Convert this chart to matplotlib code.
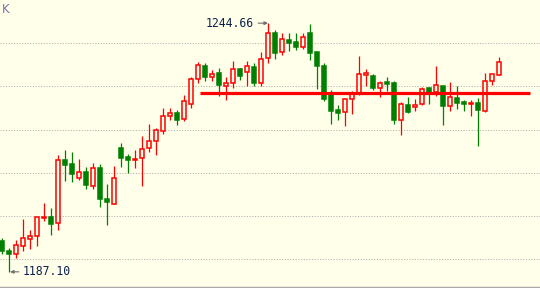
import matplotlib
matplotlib.use("Agg")
import matplotlib.pyplot as plt
import numpy as np

opens = [1194.17, 1191.92, 1191.30, 1193.15, 1194.77, 1195.51, 1199.49, 1199.72, 1198.29, 1212.99,
         1212.01, 1208.87, 1210.16, 1207.04, 1211.09, 1203.96, 1202.87, 1215.72, 1213.68, 1213.06,
         1213.38, 1215.69, 1217.31, 1219.77, 1223.10, 1223.80, 1222.41, 1225.88, 1231.67, 1234.68,
         1232.27, 1233.13, 1230.19, 1230.74, 1234.05, 1233.29, 1234.44, 1230.74, 1236.55, 1242.38,
         1237.92, 1240.69, 1240.23, 1239.21, 1242.45, 1237.99, 1234.75, 1228.03, 1224.49, 1224.03,
         1227.04, 1228.19, 1232.73, 1232.43, 1229.58, 1230.97, 1230.81, 1222.18, 1225.65, 1225.19,
         1225.88, 1229.58, 1228.73, 1230.07, 1225.42, 1227.27, 1226.34, 1225.88, 1226.11, 1224.26,
         1231.20, 1232.59]
highs = [1194.93, 1192.69, 1194.47, 1199.26, 1196.78, 1199.80, 1203.03, 1201.88, 1214.14, 1215.23,
         1214.79, 1213.17, 1211.30, 1212.29, 1212.06, 1207.38, 1211.55, 1216.92, 1214.38, 1215.30,
         1218.54, 1221.32, 1220.32, 1225.02, 1225.02, 1224.56, 1228.03, 1232.20, 1235.67, 1235.44,
         1233.75, 1234.35, 1232.20, 1235.90, 1234.35, 1235.83, 1235.37, 1238.06, 1244.66, 1243.08,
         1242.31, 1242.31, 1242.38, 1242.31, 1244.47, 1237.99, 1235.44, 1229.12, 1225.72, 1227.10,
         1228.96, 1236.99, 1233.98, 1232.82, 1231.34, 1232.20, 1231.27, 1226.48, 1227.57, 1227.11,
         1229.95, 1229.95, 1234.75, 1230.19, 1231.04, 1230.12, 1226.81, 1226.81, 1227.27, 1233.06,
         1232.96, 1236.76]
lows = [1191.23, 1187.10, 1190.30, 1191.92, 1192.45, 1193.15, 1198.94, 1195.63, 1196.90, 1208.13,
        1207.89, 1208.43, 1206.34, 1206.16, 1202.11, 1197.94, 1202.70, 1211.44, 1209.98, 1211.06,
        1206.97, 1214.84, 1214.21, 1219.07, 1222.18, 1221.16, 1222.08, 1225.09, 1230.88, 1231.20,
        1231.20, 1227.80, 1226.88, 1229.65, 1231.50, 1230.05, 1230.05, 1230.19, 1235.37, 1236.30,
        1237.36, 1238.15, 1238.52, 1238.68, 1236.13, 1229.49, 1226.64, 1221.39, 1222.18, 1220.93,
        1223.70, 1228.03, 1230.19, 1229.19, 1227.64, 1228.96, 1221.39, 1218.70, 1223.90, 1224.26,
        1225.79, 1225.88, 1227.87, 1221.16, 1224.40, 1224.72, 1224.40, 1223.24, 1216.30, 1224.03,
        1230.28, 1232.59]
closes = [1191.92, 1191.30, 1193.24, 1194.86, 1195.32, 1199.72, 1199.81, 1198.24, 1212.92, 1211.90,
          1209.79, 1210.14, 1207.25, 1211.06, 1204.03, 1203.33, 1208.75, 1213.52, 1213.06, 1213.22,
          1215.46, 1217.38, 1219.86, 1223.10, 1223.80, 1222.31, 1226.57, 1231.67, 1234.91, 1232.27,
          1232.82, 1230.42, 1230.74, 1233.98, 1232.50, 1234.68, 1230.74, 1236.30, 1242.31, 1237.82,
          1241.00, 1240.14, 1239.21, 1241.39, 1237.82, 1234.81, 1227.18, 1224.40, 1223.94, 1227.04,
          1228.26, 1232.82, 1233.06, 1229.58, 1230.88, 1230.65, 1222.18, 1225.88, 1224.03, 1225.79,
          1229.49, 1228.19, 1230.28, 1225.56, 1227.50, 1226.25, 1225.88, 1226.11, 1224.49, 1231.20,
          1232.96, 1235.60]
grid_levels = [1190, 1200, 1210, 1220, 1230, 1240]
support_level = 1228.56
max_label = "1244.66"
min_label = "1187.10"
max_idx, min_idx = 38, 1

BG = "#FFFFEA"
RED = "#FF0000"
GREEN = "#008000"

fig = plt.figure(figsize=(5.4, 2.88), dpi=100, facecolor=BG)
ax = fig.add_axes([0, 0, 1, 1], facecolor=BG)
ax.set_xlim(-0.33, 76.81)
ax.set_ylim(1183.36, 1250.02)
for s in ax.spines.values():
    s.set_visible(False)
ax.set_xticks([])
ax.set_yticks([])

for g in grid_levels:
    ax.axhline(g, color="#b0b0b0", lw=0.75, ls=(0, (1, 1.6)), zorder=1)
ax.axhline(1183.55, color="#a8a8a8", lw=1.0, zorder=1)

x = np.arange(len(opens))
o = np.array(opens); c = np.array(closes); h = np.array(highs); l = np.array(lows)
up = c >= o
w = 0.62
for i in x:
    col = RED if up[i] else GREEN
    ax.vlines(i, l[i], h[i], color=col, lw=0.9, zorder=2)
    bot = min(o[i], c[i]); ht = max(abs(c[i] - o[i]), 0.12)
    if up[i]:
        ax.bar(i, ht, bottom=bot, width=w, facecolor=BG, edgecolor=col, lw=1.1, zorder=3)
    else:
        ax.bar(i, ht, bottom=bot, width=w, facecolor=col, edgecolor=col, lw=1.1, zorder=3)

ax.plot([28.25, 75.45], [support_level, support_level], color=RED, lw=2.3,
        solid_capstyle="butt", zorder=4)

ax.annotate(max_label, xy=(max_idx - 0.05, highs[max_idx]), xytext=(-14, 0),
            textcoords="offset pixels", ha="right", va="center",
            fontsize=8.3, family="DejaVu Sans Mono", color="#0c2050",
            arrowprops=dict(arrowstyle="-|>", color="#707070", lw=0.8,
                            shrinkA=1, shrinkB=0, mutation_scale=5))
ax.annotate(min_label, xy=(min_idx + 0.1, lows[min_idx]), xytext=(13, 0),
            textcoords="offset pixels", ha="left", va="center",
            fontsize=8.3, family="DejaVu Sans Mono", color="#0c2050",
            arrowprops=dict(arrowstyle="-|>", color="#707070", lw=0.8,
                            shrinkA=1, shrinkB=0, mutation_scale=5))

fig.text(1.5 / 540, 1 - 9.5 / 288, "K", fontsize=8.5, color="#8070a8",
         ha="left", va="center")

fig.savefig("out.png", dpi=100, facecolor=BG)
